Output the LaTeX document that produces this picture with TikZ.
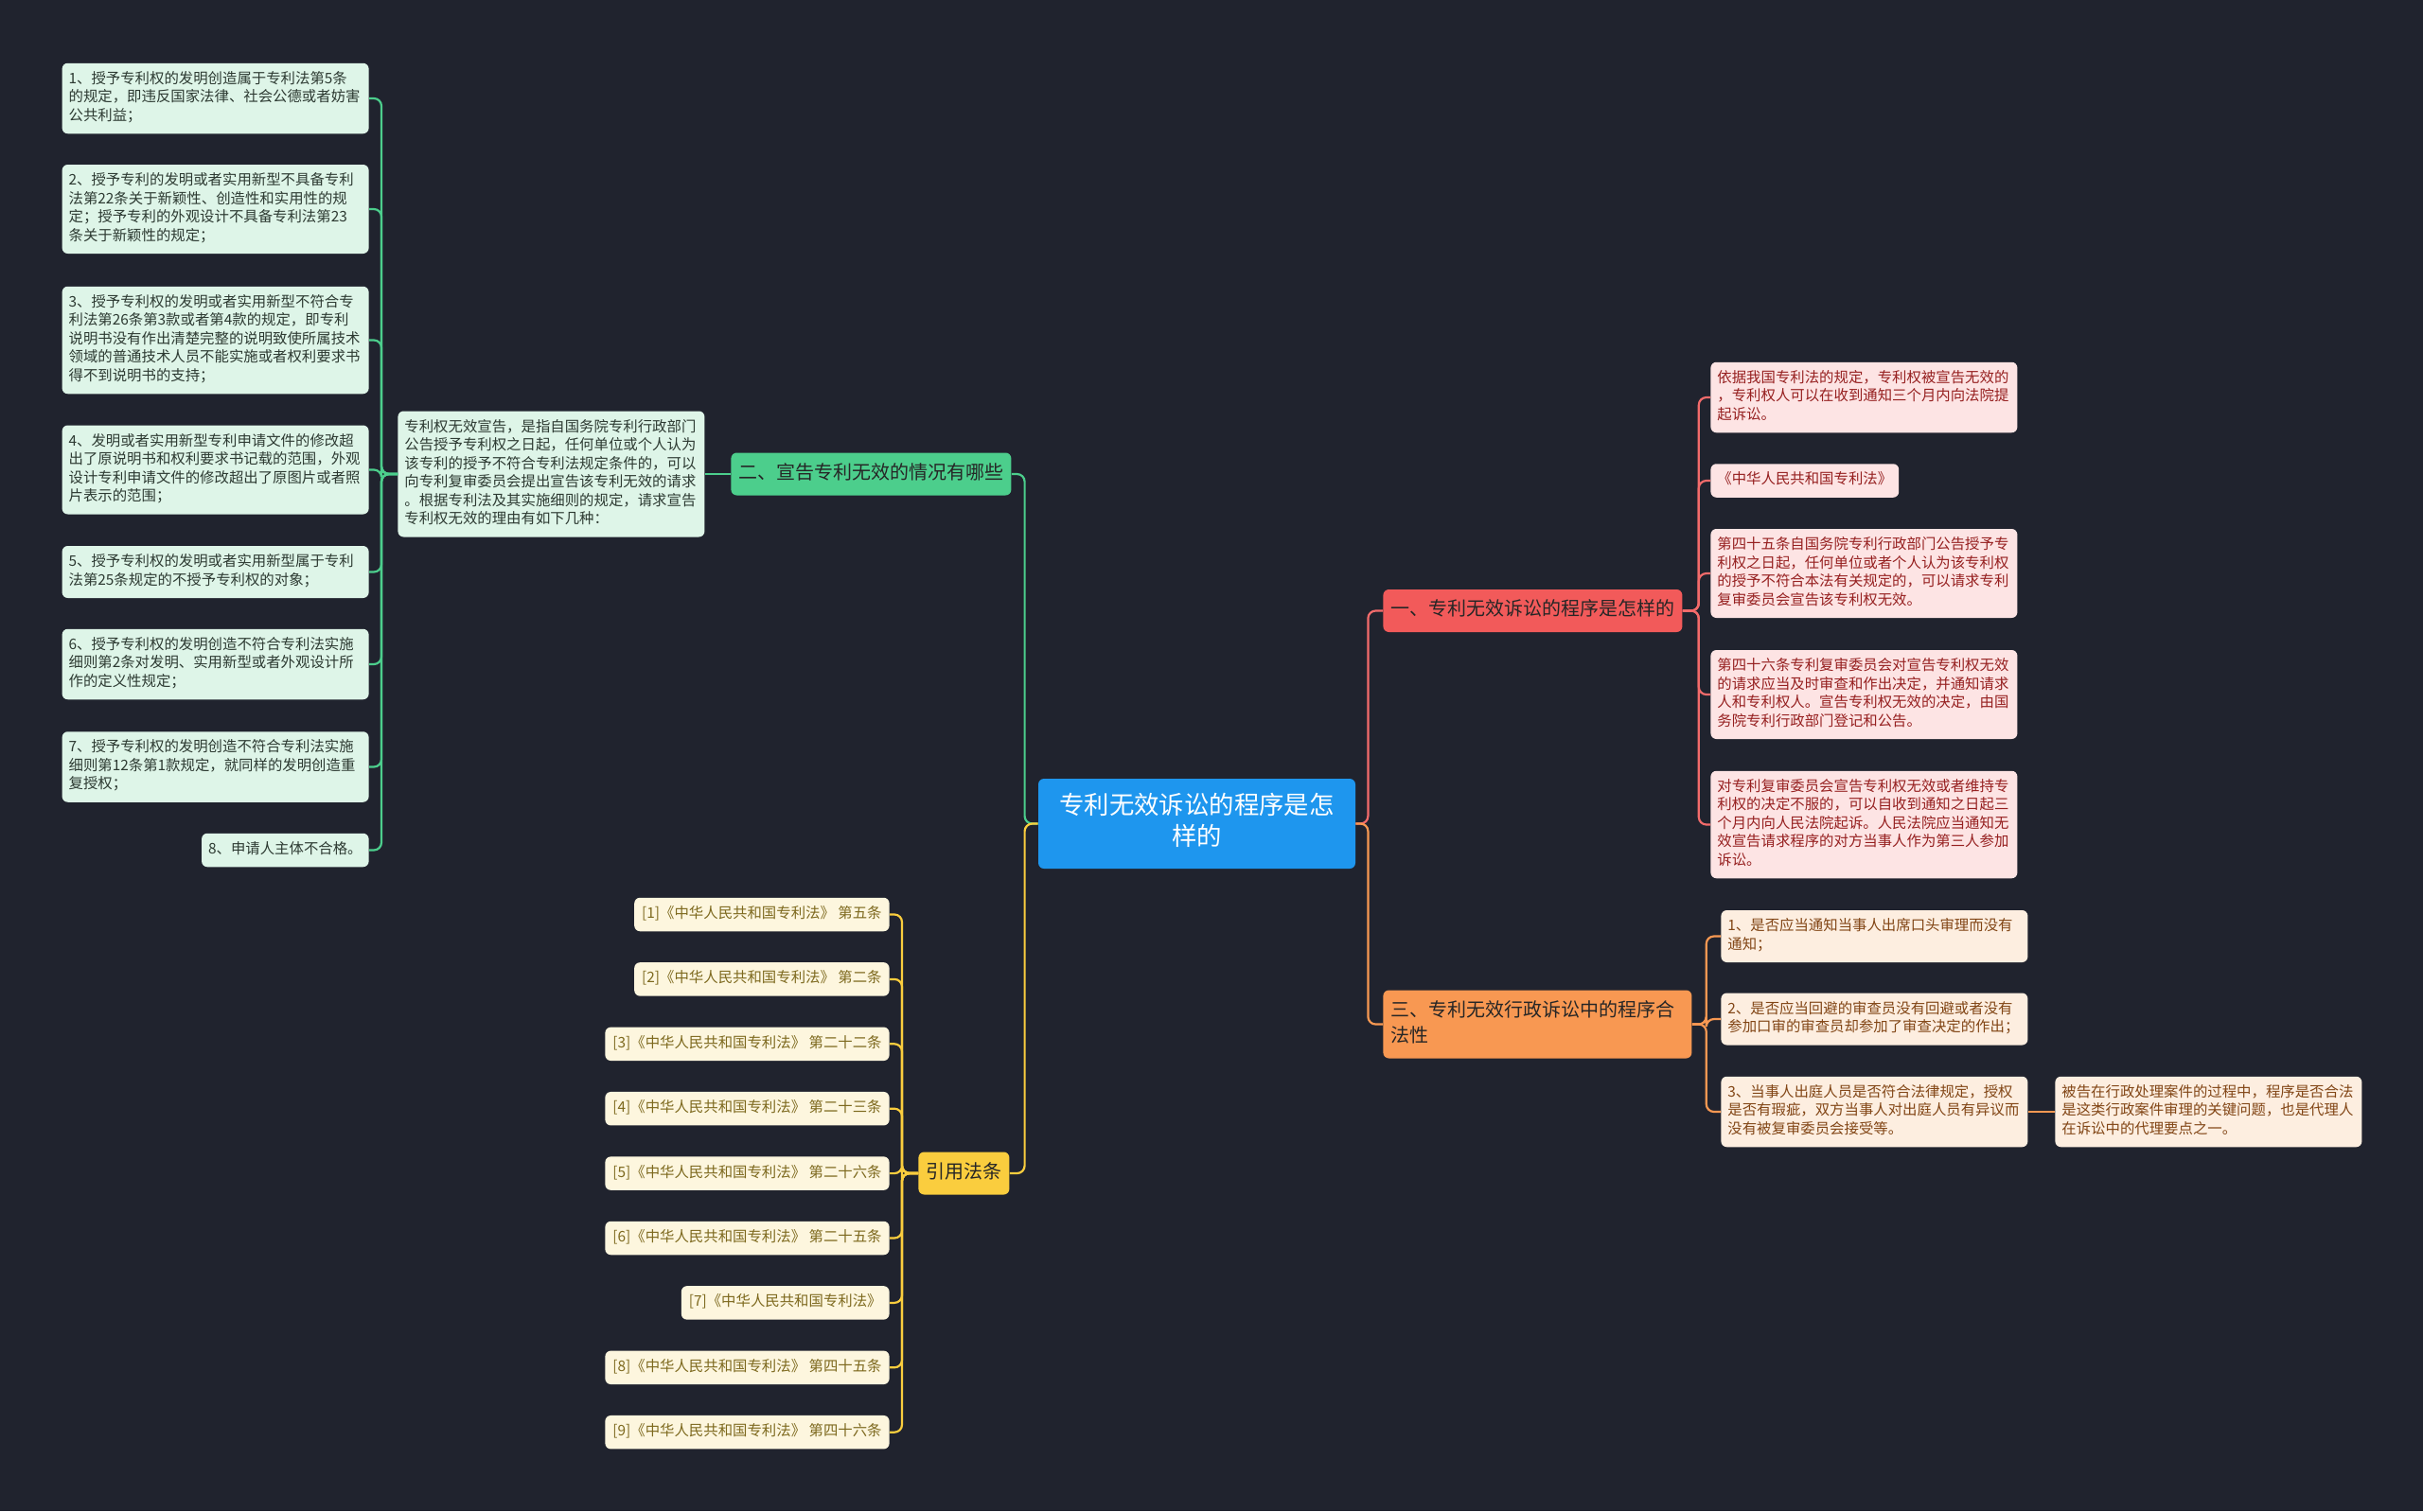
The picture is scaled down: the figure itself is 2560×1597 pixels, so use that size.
\documentclass[tikz,border=0pt]{standalone}
\usepackage{fontspec}
\newfontfamily\cjk{Noto Sans CJK SC}
\usetikzlibrary{positioning}

\definecolor{bgdark}{RGB}{32,35,46}
\definecolor{rootblue}{RGB}{30,150,238}
\definecolor{gmain}{RGB}{76,206,140}
\definecolor{gpale}{RGB}{222,245,232}
\definecolor{gtext}{RGB}{45,58,50}
\definecolor{rmain}{RGB}{242,90,90}
\definecolor{rpale}{RGB}{253,228,228}
\definecolor{rtext}{RGB}{150,32,32}
\definecolor{omain}{RGB}{248,152,82}
\definecolor{opale}{RGB}{253,238,224}
\definecolor{otext}{RGB}{130,70,22}
\definecolor{ymain}{RGB}{250,205,62}
\definecolor{ypale}{RGB}{253,246,222}
\definecolor{ytext}{RGB}{125,105,30}

\tikzset{
  leaf/.style={rounded corners=3pt, inner xsep=3.5pt, inner ysep=4pt, align=left,
    font=\cjk\fontsize{7.7}{9.75}\selectfont,
    execute at begin node=\strut, execute at end node=\strut},
  wide/.style={text width=155pt},
  gleaf/.style={leaf, fill=gpale, text=gtext},
  rleaf/.style={leaf, fill=rpale, text=rtext},
  oleaf/.style={leaf, fill=opale, text=otext},
  yleaf/.style={leaf, inner xsep=4pt, fill=ypale, text=ytext},
  branch/.style={rounded corners=3pt, inner xsep=4pt, inner ysep=4.5pt, align=left,
    font=\cjk\fontsize{10}{13.5}\selectfont, text=black!85,
    execute at begin node=\strut, execute at end node=\strut},
  root/.style={rounded corners=3pt, fill=rootblue, text=white, align=center,
    text width=150pt, inner xsep=8.75pt, inner ysep=7.25pt,
    font=\cjk\fontsize{13.2}{16.5}\selectfont,
    execute at begin node=\strut, execute at end node=\strut},
  link/.style={line width=1.1pt, rounded corners=4pt},
  gline/.style={link, draw=gmain},
  rline/.style={link, draw=rmain!90!white},
  oline/.style={link, draw=omain},
  yline/.style={link, draw=ymain},
}

\begin{document}
\begin{tikzpicture}[x=0.5pt, y=-0.5pt]
% 背景
\fill[bgdark] (0,0) rectangle (2560,1597);
\useasboundingbox (0,0) rectangle (2560,1597);

% 中心主题
\node[root] (root) at (1264.5,870.5) {专利无效诉讼的程序是怎\\样的};

% 二、宣告专利无效的情况有哪些
\node[branch, fill=gmain, anchor=west] (sec2) at (772,501) {二、宣告专利无效的情况有哪些};
\node[gleaf, wide, anchor=west] (gsum) at (420,501) {专利权无效宣告，是指自国务院专利行政部门\\公告授予专利权之日起，任何单位或个人认为\\该专利的授予不符合专利法规定条件的，可以\\向专利复审委员会提出宣告该专利无效的请求\\。根据专利法及其实施细则的规定，请求宣告\\专利权无效的理由有如下几种：};

\node[gleaf, wide, anchor=east] (g1) at (390,104) {1、授予专利权的发明创造属于专利法第5条\\的规定，即违反国家法律、社会公德或者妨害\\公共利益；};
\node[gleaf, wide, anchor=east] (g2) at (390,221) {2、授予专利的发明或者实用新型不具备专利\\法第22条关于新颖性、创造性和实用性的规\\定；授予专利的外观设计不具备专利法第23\\条关于新颖性的规定；};
\node[gleaf, wide, anchor=east] (g3) at (390,359.5) {3、授予专利权的发明或者实用新型不符合专\\利法第26条第3款或者第4款的规定，即专利\\说明书没有作出清楚完整的说明致使所属技术\\领域的普通技术人员不能实施或者权利要求书\\得不到说明书的支持；};
\node[gleaf, wide, anchor=east] (g4) at (390,496.5) {4、发明或者实用新型专利申请文件的修改超\\出了原说明书和权利要求书记载的范围，外观\\设计专利申请文件的修改超出了原图片或者照\\片表示的范围；};
\node[gleaf, wide, anchor=east] (g5) at (390,604.5) {5、授予专利权的发明或者实用新型属于专利\\法第25条规定的不授予专利权的对象；};
\node[gleaf, wide, anchor=east] (g6) at (390,702) {6、授予专利权的发明创造不符合专利法实施\\细则第2条对发明、实用新型或者外观设计所\\作的定义性规定；};
\node[gleaf, wide, anchor=east] (g7) at (390,810.5) {7、授予专利权的发明创造不符合专利法实施\\细则第12条第1款规定，就同样的发明创造重\\复授权；};
\node[gleaf, anchor=east] (g8) at (390,898.5) {8、申请人主体不合格。};

% 一、专利无效诉讼的程序是怎样的
\node[branch, fill=rmain, anchor=west] (sec1) at (1461,645.5) {一、专利无效诉讼的程序是怎样的};
\node[rleaf, wide, anchor=west] (r1) at (1807,420) {依据我国专利法的规定，专利权被宣告无效的\\，专利权人可以在收到通知三个月内向法院提\\起诉讼。};
\node[rleaf, anchor=west] (r2) at (1807,508) {《中华人民共和国专利法》};
\node[rleaf, wide, anchor=west] (r3) at (1807,606) {第四十五条自国务院专利行政部门公告授予专\\利权之日起，任何单位或者个人认为该专利权\\的授予不符合本法有关规定的，可以请求专利\\复审委员会宣告该专利权无效。};
\node[rleaf, wide, anchor=west] (r4) at (1807,734) {第四十六条专利复审委员会对宣告专利权无效\\的请求应当及时审查和作出决定，并通知请求\\人和专利权人。宣告专利权无效的决定，由国\\务院专利行政部门登记和公告。};
\node[rleaf, wide, anchor=west] (r5) at (1807,871.5) {对专利复审委员会宣告专利权无效或者维持专\\利权的决定不服的，可以自收到通知之日起三\\个月内向人民法院起诉。人民法院应当通知无\\效宣告请求程序的对方当事人作为第三人参加\\诉讼。};

% 三、专利无效行政诉讼中的程序合法性
\node[branch, fill=omain, text width=155pt, anchor=west] (sec3) at (1461,1082.5) {三、专利无效行政诉讼中的程序合\\法性};
\node[oleaf, wide, anchor=west] (o1) at (1818,989.5) {1、是否应当通知当事人出席口头审理而没有\\通知；};
\node[oleaf, wide, anchor=west] (o2) at (1818,1077) {2、是否应当回避的审查员没有回避或者没有\\参加口审的审查员却参加了审查决定的作出；};
\node[oleaf, wide, anchor=west] (o3) at (1818,1175) {3、当事人出庭人员是否符合法律规定，授权\\是否有瑕疵，双方当事人对出庭人员有异议而\\没有被复审委员会接受等。};
\node[oleaf, wide, anchor=west] (o4) at (2171,1175) {被告在行政处理案件的过程中，程序是否合法\\是这类行政案件审理的关键问题，也是代理人\\在诉讼中的代理要点之一。};

% 引用法条
\node[branch, fill=ymain, anchor=west] (cite) at (970,1240) {引用法条};
\foreach \i/\art in {1/~第五条, 2/~第二条, 3/~第二十二条, 4/~第二十三条, 5/~第二十六条,
                     6/~第二十五条, 7/{}, 8/~第四十五条, 9/~第四十六条}{
  \node[yleaf, anchor=east] (y\i) at (940,{966.5+(\i-1)*68.4}) {[\i]《中华人民共和国专利法》\art};
  \draw[yline] (cite.west) -- ++(-17,0) |- (y\i.east);
}

% 连线
\draw[gline] (root.west) -- ++(-14,0) |- (sec2.east);
\draw[yline] (root.west) -- ++(-14,0) |- (cite.east);
\draw[rline] (root.east) -- ++(13,0) |- (sec1.west);
\draw[oline] (root.east) -- ++(13,0) |- (sec3.west);

\draw[gline] (sec2.west) -- (gsum.east);
\foreach \k in {1,...,8}
  \draw[gline] (gsum.west) -- ++(-17,0) |- (g\k.east);
\foreach \k in {1,...,5}
  \draw[rline] (sec1.east) -- ++(17,0) |- (r\k.west);
\foreach \k in {1,2,3}
  \draw[oline] (sec3.east) -- ++(15,0) |- (o\k.west);
\draw[oline] (o3.east) -- (o4.west);
\end{tikzpicture}
\end{document}
